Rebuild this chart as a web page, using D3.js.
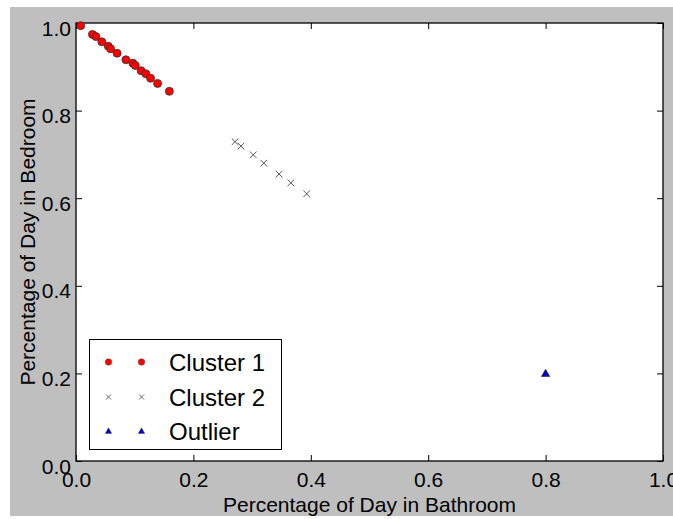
<!DOCTYPE html>
<html>
<head>
<meta charset="utf-8">
<script src="https://cdn.jsdelivr.net/npm/d3@7"></script>
<style>
  html, body { margin: 0; padding: 0; background: #ffffff; }
  svg { display: block; font-family: "Liberation Sans", Arial, Helvetica, sans-serif; }
</style>
</head>
<body>
<svg id="chart" width="673" height="519"></svg>
<script>
// ---- data ----
const cluster1X = [0.008, 0.028, 0.034, 0.044, 0.055, 0.059, 0.070, 0.085, 0.097, 0.101, 0.111, 0.119, 0.127, 0.139, 0.159];
const cluster1Y = [0.994, 0.974, 0.969, 0.957, 0.947, 0.941, 0.931, 0.916, 0.908, 0.903, 0.891, 0.884, 0.874, 0.862, 0.844];
const cluster2X = [0.271, 0.281, 0.302, 0.320, 0.346, 0.366, 0.393];
const cluster2Y = [0.729, 0.719, 0.699, 0.680, 0.655, 0.635, 0.610];
const outlierX = [0.80];
const outlierY = [0.20];
const xTicks = [0.0, 0.2, 0.4, 0.6, 0.8, 1.0];
const yTicks = [0.0, 0.2, 0.4, 0.6, 0.8, 1.0];
const seriesNames = ["Cluster 1", "Cluster 2", "Outlier"];
const xLabel = "Percentage of Day in Bathroom";
const yLabel = "Percentage of Day in Bedroom";

(function () {
// ---- layout ----
const svg = d3.select("#chart");
const pL = 76, pT = 23, pR = 663, pB = 461;

svg.append("rect").attr("x", 10).attr("y", 7).attr("width", 663).attr("height", 509).attr("fill", "#bfbfbf");
svg.append("rect").attr("x", pL).attr("y", pT).attr("width", pR - pL).attr("height", pB - pT).attr("fill", "#ffffff");

const x = d3.scaleLinear().domain([0, 1]).range([pL, pR]);
const y = d3.scaleLinear().domain([0, 1]).range([pB, pT]);
const fmt = d3.format(".1f");

function styleAxis(g) {
  g.select(".domain").remove();
  g.selectAll(".tick line").attr("stroke", "#000").attr("stroke-width", 1);
  g.selectAll(".tick text").attr("fill", "#000").attr("font-size", 21)
    .attr("font-family", "'Liberation Sans', Arial, Helvetica, sans-serif");
}

svg.append("g").attr("transform", `translate(0,${pB})`)
  .call(d3.axisBottom(x).tickValues(xTicks).tickFormat(fmt).tickSize(-6).tickPadding(11))
  .call(styleAxis);
svg.append("g").attr("transform", `translate(${pL},0)`)
  .call(d3.axisLeft(y).tickValues(yTicks).tickFormat(fmt).tickSize(-6).tickPadding(5))
  .call(styleAxis)
  .call(g => g.selectAll(".tick text").attr("dy", 12));
svg.append("g").attr("transform", `translate(0,${pT})`)
  .call(d3.axisTop(x).tickValues(xTicks).tickFormat("").tickSize(-6))
  .call(styleAxis);
svg.append("g").attr("transform", `translate(${pR},0)`)
  .call(d3.axisRight(y).tickValues(yTicks).tickFormat("").tickSize(-6))
  .call(styleAxis);

// frame
svg.append("rect").attr("x", pL).attr("y", pT).attr("width", pR - pL).attr("height", pB - pT)
  .attr("fill", "none").attr("stroke", "#000").attr("stroke-width", 1.3);

// axis labels
svg.append("text").attr("x", (pL + pR) / 2).attr("y", 512).attr("text-anchor", "middle")
  .attr("font-size", 21).attr("fill", "#000").text(xLabel);
svg.append("text").attr("transform", `translate(35,${(pT + pB) / 2}) rotate(-90)`).attr("text-anchor", "middle")
  .attr("font-size", 21).attr("fill", "#000").text(yLabel);

// marks
const c1 = cluster1X.map((v, i) => ({ x: v, y: cluster1Y[i] }));
const c2 = cluster2X.map((v, i) => ({ x: v, y: cluster2Y[i] }));
const c3 = outlierX.map((v, i) => ({ x: v, y: outlierY[i] }));

const crossPath = s => `M${-s},${-s}L${s},${s}M${-s},${s}L${s},${-s}`;
const triPath = s => `M0,${-s}L${s},${s * 0.75}L${-s},${s * 0.75}Z`;

svg.append("g").selectAll("circle").data(c1).join("circle")
  .attr("cx", d => x(d.x)).attr("cy", d => y(d.y)).attr("r", 4)
  .attr("fill", "#ff0000").attr("stroke", "#333").attr("stroke-width", 0.8);

svg.append("g").selectAll("path").data(c2).join("path")
  .attr("transform", d => `translate(${x(d.x)},${y(d.y)})`).attr("d", crossPath(3.3))
  .attr("stroke", "#555").attr("stroke-width", 1).attr("fill", "none");

svg.append("g").selectAll("path").data(c3).join("path")
  .attr("transform", d => `translate(${x(d.x)},${y(d.y)})`).attr("d", triPath(4.2))
  .attr("fill", "#0000cc").attr("stroke", "#222").attr("stroke-width", 0.6);

// legend
const lg = svg.append("g");
lg.append("rect").attr("x", 89.5).attr("y", 339.5).attr("width", 192).attr("height", 110)
  .attr("fill", "#fff").attr("stroke", "#000").attr("stroke-width", 1);
const rowY = [362, 397, 431];
const mX = [108.5, 141.5];
seriesNames.forEach((name, i) => {
  mX.forEach(mx => {
    if (i === 0) {
      lg.append("circle").attr("cx", mx).attr("cy", rowY[i]).attr("r", 3.3).attr("fill", "#ff0000").attr("stroke", "#555").attr("stroke-width", 0.5);
    } else if (i === 1) {
      lg.append("path").attr("transform", `translate(${mx},${rowY[i]})`).attr("d", crossPath(2.5))
        .attr("stroke", "#666").attr("stroke-width", 1).attr("fill", "none");
    } else {
      lg.append("path").attr("transform", `translate(${mx},${rowY[i]})`).attr("d", triPath(3.2))
        .attr("fill", "#0000cc").attr("stroke", "#333").attr("stroke-width", 0.4);
    }
  });
  lg.append("text").attr("x", 169).attr("y", rowY[i] + 9).attr("font-size", 24).attr("fill", "#000").text(name);
});
})();
</script>
</body>
</html>
